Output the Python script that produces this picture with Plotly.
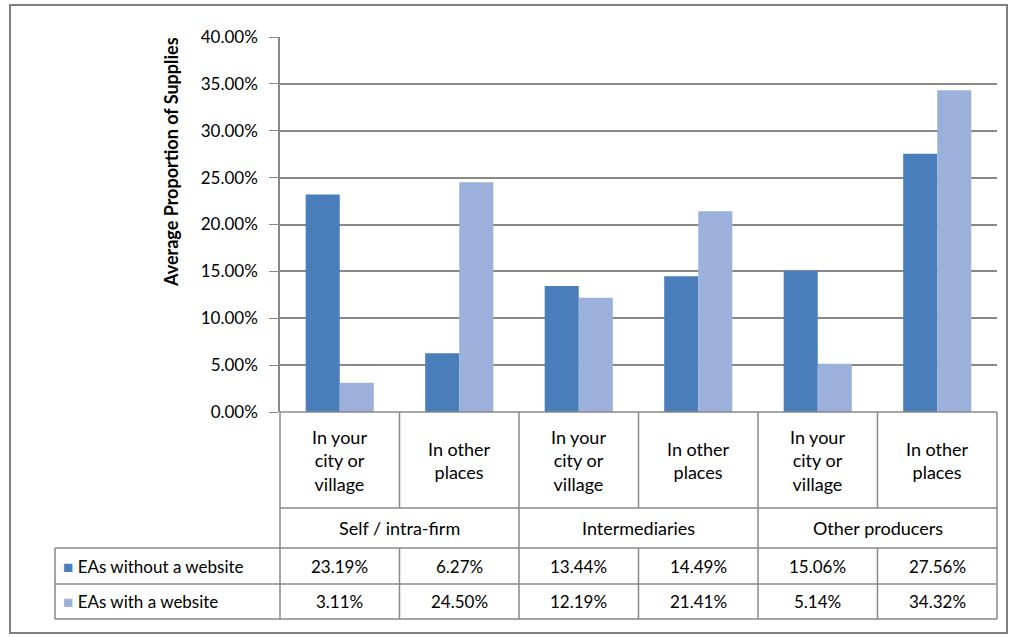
import plotly.graph_objects as go

categories = ["In your<br>city or<br>village", "In other<br>places"] * 3
groups = ["Self / intra-firm", "Intermediaries", "Other producers"]
series_names = ["EAs without a website", "EAs with a website"]
without_site = [0.2319, 0.0627, 0.1344, 0.1449, 0.1506, 0.2756]
with_site = [0.0311, 0.2450, 0.1219, 0.2141, 0.0514, 0.3432]
colors = ["#4A7EBB", "#9BB1DB"]

W, H = 1016, 637
GRID = "#888888"
FONT = "Lato, Open Sans, sans-serif"

# pixel helpers
def px(x):
    return x / W

def py(y):
    return 1 - y / H

x_left, x_right = 280, 997
y_top, y_axis = 37, 412
row_cat, row_grp, row_s1, row_s2 = 508, 548, 584, 619
leg_left = 55
col_w = (x_right - x_left) / len(categories)

fig = go.Figure()
xs = list(range(len(categories)))
for name, vals, c in zip(series_names, [without_site, with_site], colors):
    fig.add_trace(go.Bar(x=xs, y=vals, name=name, marker_color=c,
                         marker_line_width=0, showlegend=False, hoverinfo="skip"))

fig.update_layout(
    template="none",
    width=W, height=H,
    margin=dict(l=0, r=0, t=0, b=0, pad=0, autoexpand=False),
    paper_bgcolor="white", plot_bgcolor="white",
    barmode="group", bargap=0.43, bargroupgap=0,
    font=dict(family=FONT, size=17, color="black"),
    xaxis=dict(domain=[px(x_left), px(x_right)], range=[-0.5, len(categories) - 0.5],
               automargin=False, showticklabels=False, showgrid=False,
               zeroline=False, showline=False, ticks=""),
    yaxis=dict(domain=[py(y_axis), py(y_top)], range=[0, 0.4], dtick=0.05,
               automargin=False,
               tickformat=".2%", ticks="outside", ticklen=9, tickcolor=GRID,
               showline=True, linecolor=GRID, linewidth=1.5,
               gridcolor=GRID, gridwidth=1.5, zeroline=False,
               ticklabelstandoff=8,
               tickfont=dict(size=17, family=FONT)),
)

shapes = []
def line(x0, y0, x1, y1, w=1.5):
    shapes.append(dict(type="line", xref="paper", yref="paper",
                       x0=px(x0), y0=py(y0), x1=px(x1), y1=py(y1),
                       line=dict(color=GRID, width=w)))

# outer chart border
shapes.append(dict(type="rect", xref="paper", yref="paper",
                   x0=px(10), y0=py(633), x1=px(1007), y1=py(5),
                   line=dict(color="#7F7F7F", width=2)))

# data table grid
line(x_left, y_axis, x_right, y_axis)
line(x_left, row_cat, x_right, row_cat)
line(leg_left, row_grp, x_right, row_grp)
line(leg_left, row_s1, x_right, row_s1)
line(leg_left, row_s2, x_right, row_s2)
line(leg_left, row_grp, leg_left, row_s2)
for i in range(len(categories) + 1):
    xx = x_left + i * col_w
    if i % 2 == 0:
        line(xx, y_axis, xx, row_s2)
    else:
        line(xx, y_axis, xx, row_cat)
        line(xx, row_grp, xx, row_s2)
fig.update_layout(shapes=shapes)

ann = []
for i, cat in enumerate(categories):
    cx = x_left + (i + 0.5) * col_w
    ann.append(dict(x=px(cx), y=py((y_axis + row_cat) / 2), text=cat, font=dict(size=18)))
    ann.append(dict(x=px(cx), y=py((row_grp + row_s1) / 2), text=f"{without_site[i]:.2%}"))
    ann.append(dict(x=px(cx), y=py((row_s1 + row_s2) / 2), text=f"{with_site[i]:.2%}"))
for g, grp in enumerate(groups):
    cx = x_left + (2 * g + 1) * col_w
    ann.append(dict(x=px(cx), y=py((row_cat + row_grp) / 2), text=grp, font=dict(size=18)))
for k, (name, c) in enumerate(zip(series_names, colors)):
    yy = (row_grp + row_s1) / 2 if k == 0 else (row_s1 + row_s2) / 2
    ann.append(dict(x=px(leg_left + 6), y=py(yy), xanchor="left",
                    text=f"<span style='color:{c}'>■</span> {name}", font=dict(size=17)))
ann.append(dict(x=px(171), y=py(y_top - 2), yanchor="top", textangle=-90,
                text="<b>Average Proportion of Supplies</b>", font=dict(size=18)))
for a in ann:
    a.setdefault("xref", "paper")
    a.setdefault("yref", "paper")
    a.setdefault("xanchor", "center")
    a.setdefault("yanchor", "middle")
    a.setdefault("align", "center")
    a.setdefault("showarrow", False)
fig.update_layout(annotations=ann)

fig.write_html("out.html", config={"displayModeBar": False},
               post_script="document.body.style.margin='0';")
